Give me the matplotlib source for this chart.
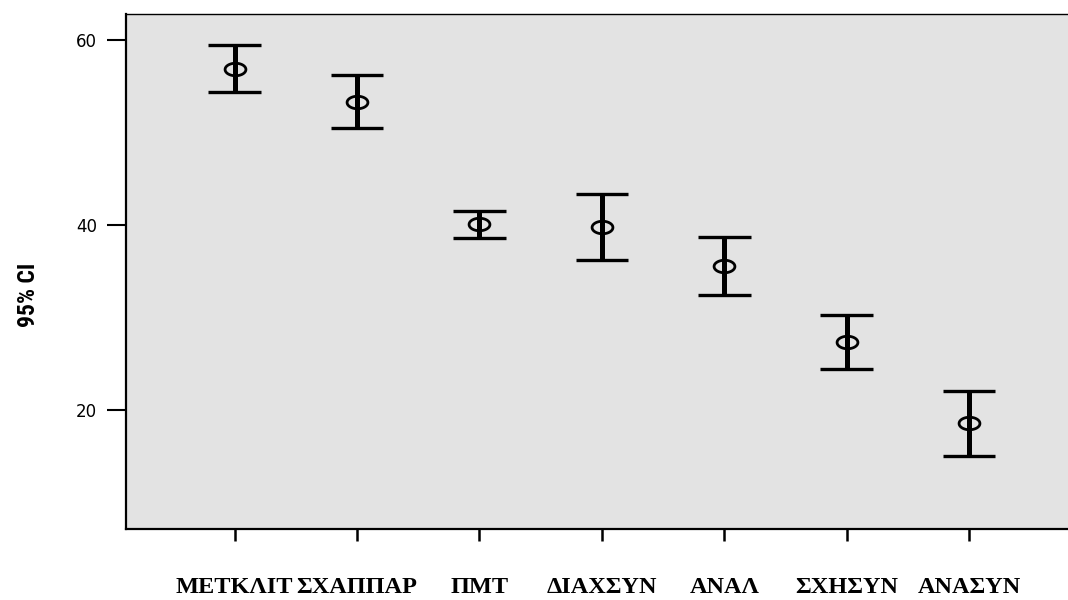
import numpy as np
import matplotlib.pyplot as plt
from matplotlib.path import Path

# group names and 95% confidence intervals (lower, mean, upper)
groups = ['ΜΕΤΚΛΙΤ', 'ΣΧΑΠΠΑΡ', 'ΠΜΤ', 'ΔΙΑΧΣΥΝ', 'ΑΝΑΛ', 'ΣΧΗΣΥΝ', 'ΑΝΑΣΥΝ']
ci_lower = [54.34, 50.45, 38.56, 36.18, 32.40, 24.40, 14.99]
ci_mean = [56.86, 53.33, 40.07, 39.82, 35.57, 27.32, 18.59]
ci_upper = [59.46, 56.22, 41.51, 43.35, 38.67, 30.24, 22.02]
yticks = [20, 40, 60]

x = np.arange(1, len(groups) + 1)

fig = plt.figure(figsize=(10.68, 6), dpi=100)
ax = fig.add_axes([126 / 1068, 1 - 528.7 / 600, 1 - 126 / 1068, 514.4 / 600])
ax.set_facecolor('#e3e3e3')

# flattened ring for the mean marker
t = np.linspace(0, 2 * np.pi, 60)
ring = Path(np.column_stack([np.cos(t), 0.6 * np.sin(t)]), closed=True)

cap = 0.215
ax.vlines(x, ci_lower, ci_upper, colors='black', linewidth=3.6, capstyle='butt', zorder=3)
ax.hlines(ci_lower, x - cap, x + cap, colors='black', linewidth=2.4, capstyle='butt', zorder=3)
ax.hlines(ci_upper, x - cap, x + cap, colors='black', linewidth=2.4, capstyle='butt', zorder=3)
ax.plot(x, ci_mean, linestyle='none', marker=ring, markersize=15,
        markerfacecolor='none', markeredgecolor='black', markeredgewidth=2.0, zorder=4)

ax.set_xlim(1 - 108.7 / 122.3, 7 + 99 / 122.3)
ax.set_ylim(7.17, 62.78)

ax.set_yticks(yticks)
ax.set_yticklabels([str(v) for v in yticks], fontsize=12, family='DejaVu Sans')
ax.tick_params(axis='y', length=13.7, width=1.5, pad=7, direction='out')

ax.set_xticks(x)
ax.set_xticklabels(groups, fontsize=17.5, fontweight='bold',
                   family=['Liberation Serif', 'DejaVu Serif'])
ax.tick_params(axis='x', length=8.6, width=1.8, pad=26, direction='out')

ax.spines['right'].set_visible(False)
ax.spines['left'].set_linewidth(1.6)
ax.spines['bottom'].set_linewidth(1.6)
ax.spines['top'].set_linewidth(1.0)

ax.set_ylabel('95% CI', fontsize=17, fontweight='bold', fontstretch='condensed',
              family=['Roboto Condensed', 'Liberation Sans Narrow', 'DejaVu Sans'],
              va='center')
ax.yaxis.set_label_coords(-0.103, 0.454)

fig.savefig('out.png', dpi=100)
